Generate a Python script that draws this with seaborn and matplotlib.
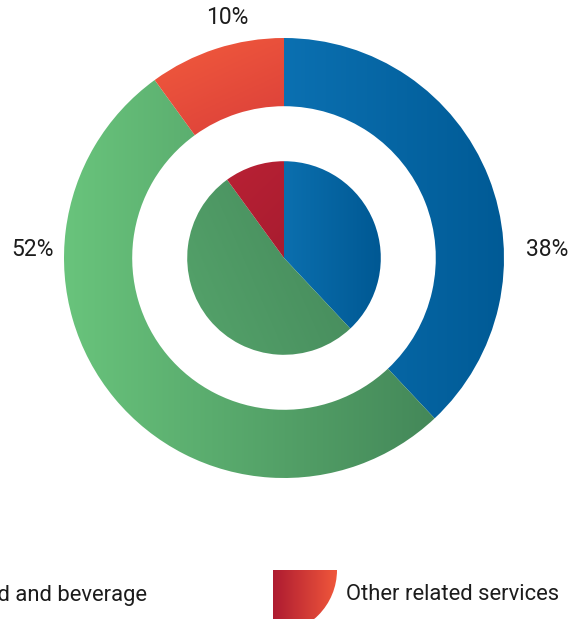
#nested donut: share of spending by category, outer ring + inner pie
#gradients are drawn by clipping an image to each wedge

import numpy as np
import matplotlib
matplotlib.use("Agg")
import matplotlib.pyplot as plt
import seaborn as sns
from matplotlib.colors import LinearSegmentedColormap
from matplotlib.patches import Wedge

sns.set_theme(style="white")
plt.rcParams["font.family"] = ["Roboto", "DejaVu Sans"]

#data
categories = ["Accommodation", "Food and beverage", "Other related services"]
outer_share = [38, 52, 10]
inner_share = [38, 52, 10]
pct_labels = ["38%", "52%", "10%"]

#gradient colours (start, end, direction in degrees)
outer_grad = [("#0b70b1", "#005a95", 0), ("#69c47c", "#448859", 0), ("#f25b3d", "#c82836", -75)]
inner_grad = [("#0b6fae", "#005893", 0), ("#55a46b", "#44875a", 25), ("#b92134", "#a81c30", -60)]
legend_grad = [("#0b70b1", "#005a95", 0), ("#69c47c", "#448859", 0), ("#ae1b31", "#f0573b", 0)]

text_color = "#1c1c1c"


def fill_gradient(ax, patch, c1, c2, angle, verts=None):
    if verts is None:
        verts = patch.get_path().vertices
    x0, y0 = verts.min(axis=0)
    x1, y1 = verts.max(axis=0)
    xx, yy = np.meshgrid(np.linspace(0, 1, 200), np.linspace(0, 1, 200))
    t = np.deg2rad(angle)
    v = xx * np.cos(t) + yy * np.sin(t)
    v = (v - v.min()) / (v.max() - v.min())
    cmap = LinearSegmentedColormap.from_list("g", [c1, c2])
    im = ax.imshow(v, cmap=cmap, extent=(x0, x1, y0, y1), origin="lower",
                   interpolation="bilinear", aspect="auto", zorder=patch.get_zorder())
    im.set_clip_path(patch)
    patch.set_facecolor("none")


fig = plt.figure(figsize=(5.78, 6.19), dpi=100)
ax = fig.add_axes([64 / 578, 141 / 619, 440 / 578, 440 / 619])

outer, _ = ax.pie(outer_share, radius=1, startangle=90, counterclock=False,
                  wedgeprops=dict(width=0.31, linewidth=0))
inner, _ = ax.pie(inner_share, radius=0.44, startangle=90, counterclock=False,
                  wedgeprops=dict(linewidth=0))

for w, (c1, c2, a) in zip(outer, outer_grad):
    fill_gradient(ax, w, c1, c2, a)
for w, (c1, c2, a) in zip(inner, inner_grad):
    fill_gradient(ax, w, c1, c2, a)

ax.set_xlim(-1, 1)
ax.set_ylim(-1, 1)
ax.set_aspect("equal")
ax.axis("off")

#percentage labels
label_pos = [(1.195, 0.04), (-1.143, 0.04), (-0.26, 1.095)]
for txt, (x, y) in zip(pct_labels, label_pos):
    ax.text(x, y, txt, ha="center", va="center", fontsize=16.5, color=text_color,
            clip_on=False)

#legend along the bottom, drawn in pixel coords (runs off the left edge like the source)
lax = fig.add_axes([0, 0, 1, 1])
lax.set_xlim(0, 578)
lax.set_ylim(619, 0)
lax.axis("off")

item_x = [-470, -113, 273]
for name, x, (c1, c2, a) in zip(categories, item_x, legend_grad):
    w = Wedge((x, 570), 64, 0, 90, linewidth=0)
    lax.add_patch(w)
    fill_gradient(lax, w, c1, c2, a, verts=np.array([[x, 570], [x + 64, 634]]))
    lax.text(x + 73, 595, name, ha="left", va="center", fontsize=15.8, color=text_color)

lax.set_xlim(0, 578)
lax.set_ylim(619, 0)

fig.savefig("out.png", dpi=100)
